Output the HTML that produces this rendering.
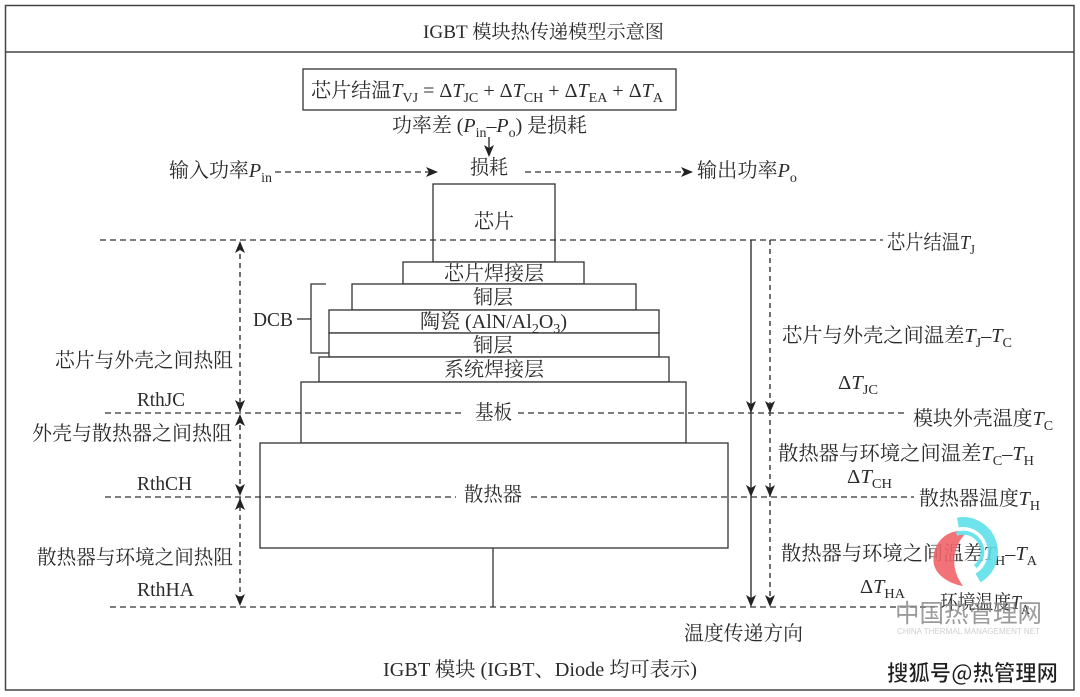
<!DOCTYPE html>
<html>
<head>
<meta charset="utf-8">
<style>
html,body{margin:0;padding:0;background:#fff;}
svg{display:block;}
</style>
</head>
<body>
<svg width="1080" height="697" viewBox="0 0 1080 697" xmlns="http://www.w3.org/2000/svg" font-family="'Liberation Serif','Noto Serif CJK SC',serif" fill="#2b2b2b">
<rect x="0" y="0" width="1080" height="697" fill="#fff"/>
<!-- frame -->
<rect x="5.5" y="5.5" width="1068.5" height="684.5" fill="none" stroke="#444" stroke-width="1.5"/>
<line x1="5.5" y1="52" x2="1074" y2="52" stroke="#444" stroke-width="1.5"/>
<text x="423" y="38" font-size="19" textLength="241" lengthAdjust="spacingAndGlyphs">IGBT 模块热传递模型示意图</text>

<!-- formula box -->
<rect x="303" y="69" width="373" height="41" fill="none" stroke="#333" stroke-width="1.3"/>
<text x="311" y="97" font-size="20" textLength="352" lengthAdjust="spacingAndGlyphs">芯片结温<tspan font-style="italic">T</tspan><tspan font-size="14" dy="5">VJ</tspan><tspan dy="-5"> = Δ</tspan><tspan font-style="italic">T</tspan><tspan font-size="14" dy="5">JC</tspan><tspan dy="-5"> + Δ</tspan><tspan font-style="italic">T</tspan><tspan font-size="14" dy="5">CH</tspan><tspan dy="-5"> + Δ</tspan><tspan font-style="italic">T</tspan><tspan font-size="14" dy="5">EA</tspan><tspan dy="-5"> + Δ</tspan><tspan font-style="italic">T</tspan><tspan font-size="14" dy="5">A</tspan></text>

<text x="392" y="132" font-size="20" textLength="195" lengthAdjust="spacingAndGlyphs">功率差 (<tspan font-style="italic">P</tspan><tspan font-size="14" dy="5">in</tspan><tspan dy="-5">–</tspan><tspan font-style="italic">P</tspan><tspan font-size="14" dy="5">o</tspan><tspan dy="-5">) 是损耗</tspan></text>
<line x1="489" y1="137" x2="489" y2="150" stroke="#333" stroke-width="1.4"/>
<polygon points="489,157 484,145 489,148 494,145" fill="#222"/>
<text x="470" y="174" font-size="20" textLength="38" lengthAdjust="spacingAndGlyphs">损耗</text>

<text x="169" y="177" font-size="20" textLength="103" lengthAdjust="spacingAndGlyphs">输入功率<tspan font-style="italic">P</tspan><tspan font-size="14" dy="5">in</tspan></text>
<line x1="275" y1="172" x2="430" y2="172" stroke="#333" stroke-width="1.3" stroke-dasharray="6 4"/>
<polygon points="438,172 426,167 429,172 426,177" fill="#222"/>
<line x1="525" y1="172" x2="685" y2="172" stroke="#333" stroke-width="1.3" stroke-dasharray="6 4"/>
<polygon points="693,172 681,167 684,172 681,177" fill="#222"/>
<text x="697" y="177" font-size="20" textLength="100" lengthAdjust="spacingAndGlyphs">输出功率<tspan font-style="italic">P</tspan><tspan font-size="14" dy="5">o</tspan></text>

<!-- stack -->
<g fill="#fff" stroke="#333" stroke-width="1.3">
<rect x="433" y="184" width="122" height="78"/>
<rect x="403" y="262" width="181" height="22"/>
<rect x="352" y="284" width="284" height="26"/>
<rect x="329" y="310" width="330" height="23"/>
<rect x="329" y="333" width="330" height="24"/>
<rect x="319" y="357" width="350" height="25"/>
<rect x="301" y="382" width="385" height="61"/>
<rect x="260" y="443" width="468" height="105"/>
</g>
<g font-size="20" text-anchor="middle">
<text x="494" y="228">芯片</text>
<text x="494" y="280">芯片焊接层</text>
<text x="493" y="304">铜层</text>
<text x="493" y="352">铜层</text>
<text x="494" y="376">系统焊接层</text>
</g>
<text x="420" y="328" font-size="20" textLength="147" lengthAdjust="spacingAndGlyphs">陶瓷 (AlN/Al<tspan font-size="14" dy="5">2</tspan><tspan dy="-5">O</tspan><tspan font-size="14" dy="5">3</tspan><tspan dy="-5">)</tspan></text>

<!-- DCB bracket -->
<polyline points="326,284 311,284 311,353 329,353" fill="none" stroke="#333" stroke-width="1.3"/>
<line x1="297" y1="319" x2="311" y2="319" stroke="#333" stroke-width="1.3"/>
<text x="253" y="326" font-size="20" textLength="40" lengthAdjust="spacingAndGlyphs">DCB</text>

<!-- horizontal dashed lines -->
<g stroke="#333" stroke-width="1.3" stroke-dasharray="6 4" fill="none">
<line x1="100" y1="240" x2="883" y2="240"/>
<line x1="105" y1="413" x2="463" y2="413"/>
<line x1="518" y1="413" x2="906" y2="413"/>
<line x1="105" y1="497" x2="456" y2="497"/>
<line x1="531" y1="497" x2="914" y2="497"/>
<line x1="110" y1="607" x2="935" y2="607"/>
</g>
<text x="475" y="419" font-size="20" textLength="37" lengthAdjust="spacingAndGlyphs">基板</text>
<text x="464" y="501" font-size="20" textLength="58" lengthAdjust="spacingAndGlyphs">散热器</text>

<!-- heatsink stem -->
<line x1="493" y1="548" x2="493" y2="607" stroke="#333" stroke-width="1.3"/>

<!-- left vertical dashed with arrows -->
<line x1="240" y1="245" x2="240" y2="602" stroke="#333" stroke-width="1.4" stroke-dasharray="5 4"/>
<g fill="#222">
<polygon points="240,241 235,253 240,250 245,253"/>
<polygon points="240,412 235,400 240,403 245,400"/>
<polygon points="240,414 235,426 240,423 245,426"/>
<polygon points="240,496 235,484 240,487 245,484"/>
<polygon points="240,498 235,510 240,507 245,510"/>
<polygon points="240,606 235,594 240,597 245,594"/>
</g>

<!-- right vertical lines -->
<line x1="751" y1="240" x2="751" y2="600" stroke="#333" stroke-width="1.4"/>
<line x1="770" y1="240" x2="770" y2="600" stroke="#333" stroke-width="1.4" stroke-dasharray="5 4"/>
<g fill="#222">
<polygon points="751,413 746,401 751,404 756,401"/>
<polygon points="751,497 746,485 751,488 756,485"/>
<polygon points="751,607 746,595 751,598 756,595"/>
<polygon points="770,413 765,401 770,404 775,401"/>
<polygon points="770,497 765,485 770,488 775,485"/>
<polygon points="770,607 765,595 770,598 775,595"/>
</g>

<!-- left labels -->
<g font-size="20">
<text x="55" y="367" textLength="178" lengthAdjust="spacingAndGlyphs">芯片与外壳之间热阻</text>
<text x="137" y="406" textLength="48" lengthAdjust="spacingAndGlyphs">RthJC</text>
<text x="32" y="440" textLength="200" lengthAdjust="spacingAndGlyphs">外壳与散热器之间热阻</text>
<text x="137" y="490" textLength="55" lengthAdjust="spacingAndGlyphs">RthCH</text>
<text x="37" y="564" textLength="196" lengthAdjust="spacingAndGlyphs">散热器与环境之间热阻</text>
<text x="137" y="596" textLength="57" lengthAdjust="spacingAndGlyphs">RthHA</text>
</g>

<!-- right labels -->
<g font-size="20">
<text x="887" y="249" textLength="88" lengthAdjust="spacingAndGlyphs">芯片结温<tspan font-style="italic">T</tspan><tspan font-size="14" dy="5">J</tspan></text>
<text x="782" y="342" textLength="230" lengthAdjust="spacingAndGlyphs">芯片与外壳之间温差<tspan font-style="italic">T</tspan><tspan font-size="14" dy="5">J</tspan><tspan dy="-5">–</tspan><tspan font-style="italic">T</tspan><tspan font-size="14" dy="5">C</tspan></text>
<text x="838" y="389" textLength="40" lengthAdjust="spacingAndGlyphs">Δ<tspan font-style="italic">T</tspan><tspan font-size="14" dy="5">JC</tspan></text>
<text x="913" y="425" textLength="140" lengthAdjust="spacingAndGlyphs">模块外壳温度<tspan font-style="italic">T</tspan><tspan font-size="14" dy="5">C</tspan></text>
<text x="778" y="460" textLength="256" lengthAdjust="spacingAndGlyphs">散热器与环境之间温差<tspan font-style="italic">T</tspan><tspan font-size="14" dy="5">C</tspan><tspan dy="-5">–</tspan><tspan font-style="italic">T</tspan><tspan font-size="14" dy="5">H</tspan></text>
<text x="847" y="483" textLength="45" lengthAdjust="spacingAndGlyphs">Δ<tspan font-style="italic">T</tspan><tspan font-size="14" dy="5">CH</tspan></text>
<text x="919" y="505" textLength="121" lengthAdjust="spacingAndGlyphs">散热器温度<tspan font-style="italic">T</tspan><tspan font-size="14" dy="5">H</tspan></text>
<text x="781" y="560" textLength="256" lengthAdjust="spacingAndGlyphs">散热器与环境之间温差<tspan font-style="italic">T</tspan><tspan font-size="14" dy="5">H</tspan><tspan dy="-5">–</tspan><tspan font-style="italic">T</tspan><tspan font-size="14" dy="5">A</tspan></text>
<text x="860" y="593" textLength="45" lengthAdjust="spacingAndGlyphs">Δ<tspan font-style="italic">T</tspan><tspan font-size="14" dy="5">HA</tspan></text>
<text x="940" y="609" textLength="90" lengthAdjust="spacingAndGlyphs">环境温度<tspan font-style="italic">T</tspan><tspan font-size="14" dy="5">A</tspan></text>
</g>

<!-- bottom labels -->
<text x="684" y="640" font-size="20" textLength="119" lengthAdjust="spacingAndGlyphs">温度传递方向</text>
<text x="383" y="676" font-size="20" textLength="314" lengthAdjust="spacingAndGlyphs">IGBT 模块 (IGBT、Diode 均可表示)</text>

<!-- watermark logo -->
<g opacity="0.9">
<path d="M958,531 C940,533 931,550 934,565 C937,576 950,584 963,586 C955,575 952,563 956,550 C958,543 962,537 966,533 Z" fill="#f0646a"/>
<path d="M957.8,522.5 A30,30 0 0 1 978,578" fill="none" stroke="#5fe0ea" stroke-width="10"/>
<path d="M956.5,534 A19,19 0 0 1 975.2,566.6" fill="none" stroke="#5fe0ea" stroke-width="4"/>
</g>
<text x="895" y="622" font-size="25" font-family="'Noto Sans CJK SC',sans-serif" fill="#8a8a8a" opacity="0.85" textLength="147" lengthAdjust="spacingAndGlyphs">中国热管理网</text>
<text x="897" y="634" font-size="8" font-family="'Liberation Sans',sans-serif" fill="#cfcfcf" textLength="143" lengthAdjust="spacingAndGlyphs">CHINA THERMAL MANAGEMENT NET</text>
<text x="887" y="681" font-size="22" font-weight="bold" font-family="'Noto Sans CJK SC',sans-serif" fill="#1e1e1e" stroke="#fff" stroke-width="0.6" textLength="171" lengthAdjust="spacingAndGlyphs">搜狐号@热管理网</text>
</svg>
</body>
</html>
